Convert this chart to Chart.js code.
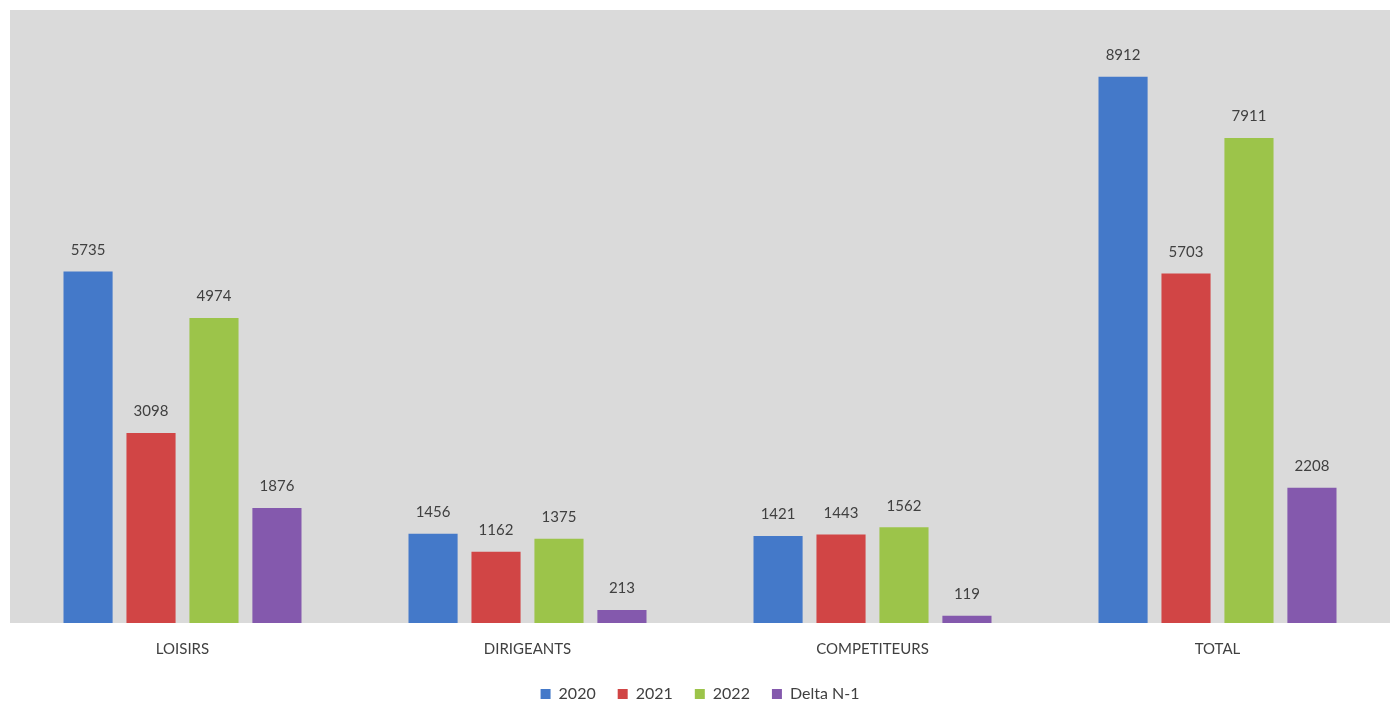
<!DOCTYPE html><html lang="en"><head>
    <meta charset="utf-8">
    <script src="https://cdn.jsdelivr.net/npm/chart.js@4"></script>
    <style>
      html, body { margin: 0; padding: 0; background: #ffffff; }
      #wrap { width: 1393px; height: 704px; }
    </style>
  </head>
  <body>
    <div id="wrap"><canvas id="myChart" width="1393" height="704"></canvas></div>
    <script>
      const categories = ['LOISIRS', 'DIRIGEANTS', 'COMPETITEURS', 'TOTAL'];
      const v2020 = [5735, 1456, 1421, 8912];
      const v2021 = [3098, 1162, 1443, 5703];
      const v2022 = [4974, 1375, 1562, 7911];
      const delta = [1876, 213, 119, 2208];

      // grey plot background + value labels above the bars
      const plotBg = {
        id: 'plotBg',
        beforeDraw(chart) {
          const { ctx, chartArea: a } = chart;
          ctx.save();
          ctx.fillStyle = '#dadada';
          ctx.fillRect(a.left, a.top, a.right - a.left, a.bottom - a.top);
          ctx.restore();
        },
        afterDatasetsDraw(chart) {
          const ctx = chart.ctx;
          ctx.save();
          ctx.font = '15px Lato';
          ctx.fillStyle = '#404040';
          ctx.textAlign = 'center';
          ctx.textBaseline = 'bottom';
          chart.data.datasets.forEach((ds, i) => {
            chart.getDatasetMeta(i).data.forEach((bar, j) => {
              ctx.fillText(ds.data[j], bar.x, bar.y - 14);
            });
          });
          ctx.restore();
        }
      };

      const ctx = document.getElementById('myChart').getContext('2d');
      const myChart = new Chart(ctx, {
        type: 'bar',
        data: {
          labels: categories,
          datasets: [
            { label: '2020', data: v2020, backgroundColor: '#4479c9' },
            { label: '2021', data: v2021, backgroundColor: '#d14545' },
            { label: '2022', data: v2022, backgroundColor: '#9cc44a' },
            { label: 'Delta N-1', data: delta, backgroundColor: '#8459ad' }
          ]
        },
        options: {
          responsive: false,
          animation: false,
          devicePixelRatio: 1,
          layout: { padding: { left: 10, right: 3, top: 10, bottom: -8 } },
          datasets: { bar: { categoryPercentage: 0.73, barPercentage: 0.78 } },
          scales: {
            x: {
              grid: { display: false, drawTicks: false },
              border: { display: false },
              ticks: { color: '#404040', font: { family: 'Lato', size: 15 }, padding: 17 },
              afterFit(scale) { scale.height = 41; }
            },
            y: {
              display: false,
              min: 0,
              max: 10000
            }
          },
          plugins: {
            tooltip: { enabled: false },
            legend: {
              position: 'bottom',
              labels: {
                boxWidth: 10,
                boxHeight: 10,
                color: '#404040',
                font: { family: 'Lato', size: 16 },
                padding: 22
              }
            }
          }
        },
        plugins: [plotBg]
      });
    </script>
</body></html>
